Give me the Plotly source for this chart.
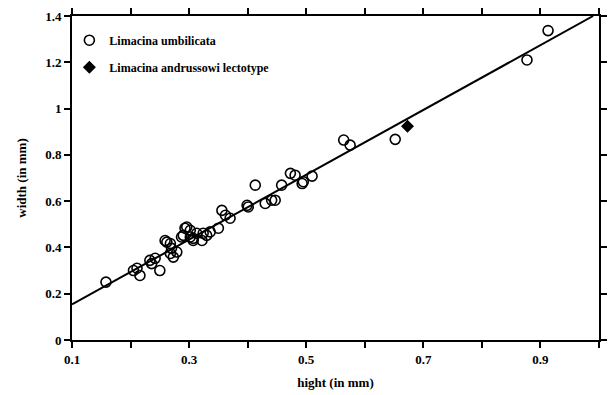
import plotly.graph_objects as go
import numpy as np

# Limacina umbilicata measurements (hight, width in mm)
umb_hight = [0.158, 0.205, 0.211, 0.216, 0.233, 0.236, 0.242, 0.250,
             0.259, 0.262, 0.268, 0.268, 0.270, 0.273, 0.279, 0.287,
             0.290, 0.293, 0.296, 0.302, 0.302, 0.307, 0.307, 0.313,
             0.322, 0.324, 0.330, 0.336, 0.350, 0.356, 0.362, 0.370,
             0.399, 0.401, 0.413, 0.430, 0.441, 0.447, 0.458, 0.473,
             0.481, 0.493, 0.495, 0.510, 0.564, 0.575, 0.652, 0.877, 0.913]
umb_width = [0.250, 0.300, 0.310, 0.279, 0.344, 0.330, 0.353, 0.300,
             0.430, 0.423, 0.374, 0.417, 0.396, 0.358, 0.380, 0.445,
             0.452, 0.483, 0.488, 0.445, 0.474, 0.430, 0.439, 0.461,
             0.430, 0.461, 0.452, 0.467, 0.483, 0.560, 0.539, 0.526,
             0.582, 0.575, 0.669, 0.590, 0.604, 0.604, 0.669, 0.720,
             0.712, 0.676, 0.684, 0.708, 0.864, 0.842, 0.867, 1.210, 1.337]

# Limacina andrussowi lectotype
lec_hight = [0.673]
lec_width = [0.924]

# Regression line: width = a + b * hight
fit_intercept = 0.014
fit_slope = 1.40
fit_x_range = [0.1, 0.99]

x_ticks = [0.1, 0.2, 0.3, 0.4, 0.5, 0.6, 0.7, 0.8, 0.9, 1.0]
x_tick_text = ["0.1", "", "0.3", "", "0.5", "", "0.7", "", "0.9", ""]
y_ticks = [0, 0.2, 0.4, 0.6, 0.8, 1.0, 1.2, 1.4]
y_tick_text = ["0", "0.2", "0.4", "0.6", "0.8", "1", "1.2", "1.4"]

FONT = "Liberation Serif"

fx = np.array(fit_x_range)
fy = fit_intercept + fit_slope * fx

fig = go.Figure()
fig.add_trace(go.Scatter(x=fx, y=fy, mode="lines",
                         line=dict(color="black", width=2),
                         showlegend=False, hoverinfo="skip"))
fig.add_trace(go.Scatter(x=umb_hight, y=umb_width, mode="markers",
                         name="Limacina umbilicata", legendgroup="a",
                         marker=dict(symbol="circle-open", size=10, color="black",
                                     line=dict(width=1.6, color="black"))))
fig.add_trace(go.Scatter(x=lec_hight, y=lec_width, mode="markers",
                         name="Limacina andrussowi lectotype", legendgroup="b",
                         marker=dict(symbol="diamond", size=10, color="black")))

axis_common = dict(showline=True, linecolor="black", linewidth=2, mirror="ticks",
                   ticks="outside", ticklen=6, tickwidth=1.5, tickcolor="black",
                   showgrid=False, zeroline=False, automargin=False,
                   tickfont=dict(family=FONT, size=13, color="black", weight="bold"))

fig.update_xaxes(range=[0.1, 1.0], tickvals=x_ticks, ticktext=x_tick_text,
                 title=dict(text="hight (in mm)", standoff=12,
                            font=dict(family=FONT, size=13, color="black", weight="bold")),
                 **axis_common)
fig.update_yaxes(range=[0, 1.4], tickvals=y_ticks, ticktext=y_tick_text,
                 title=dict(text="width (in mm)", standoff=16,
                            font=dict(family=FONT, size=13, color="black", weight="bold")),
                 **axis_common)

fig.update_layout(
    width=609, height=395,
    margin=dict(l=72, r=10, t=16, b=55),
    plot_bgcolor="white", paper_bgcolor="white",
    legend=dict(x=-0.005, y=0.97, xanchor="left", yanchor="top",
                bgcolor="rgba(0,0,0,0)",
                font=dict(family=FONT, size=12, color="black", weight="bold"),
                tracegroupgap=8),
)

fig.write_html("out.html")
